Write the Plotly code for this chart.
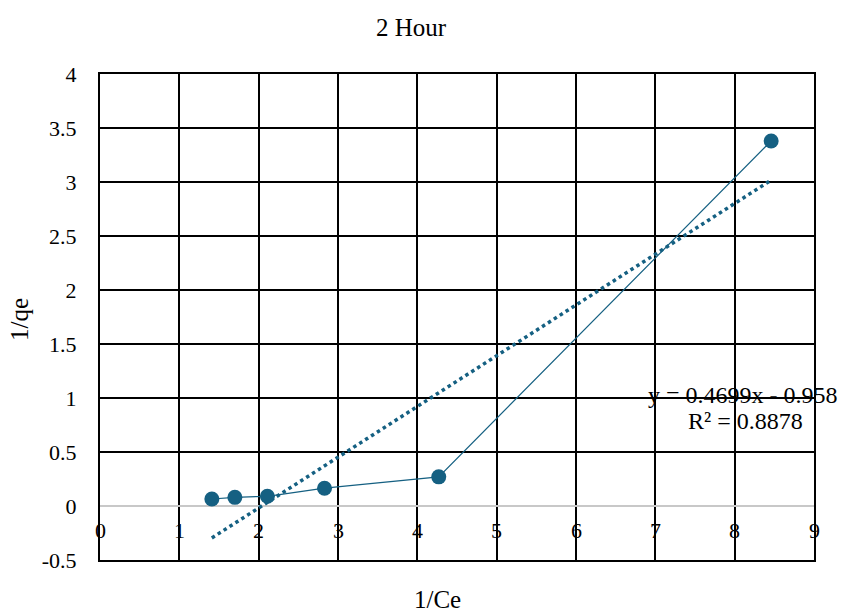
import plotly.graph_objects as go

# Data
inv_ce = [1.41, 1.70, 2.11, 2.83, 4.27, 8.46]
inv_qe = [0.065, 0.08, 0.09, 0.165, 0.27, 3.38]
slope = 0.4699
intercept = -0.958
eq_text = "y = 0.4699x - 0.958"
r2_text = "R² = 0.8878"
x_ticks = [0, 1, 2, 3, 4, 5, 6, 7, 8, 9]
y_ticks = [-0.5, 0, 0.5, 1, 1.5, 2, 2.5, 3, 3.5, 4]

color = "#156082"
font = "Liberation Serif"

x_min, x_max = min(inv_ce), max(inv_ce)
trend_x = [x_min, x_max]
trend_y = [slope * v + intercept for v in trend_x]

fig = go.Figure()
fig.add_trace(go.Scatter(
    x=trend_x, y=trend_y, mode="lines",
    line=dict(color=color, width=3.5, dash="dot"),
    showlegend=False, hoverinfo="skip"))
fig.add_trace(go.Scatter(
    x=inv_ce, y=inv_qe, mode="lines+markers",
    line=dict(color=color, width=1.2),
    marker=dict(color=color, size=15),
    showlegend=False))

annotations = []
for t in x_ticks:
    annotations.append(dict(x=t, y=0, xref="x", yref="y", text=str(t),
                            showarrow=False, yanchor="top", yshift=-10,
                            font=dict(family=font, size=22, color="#000")))
annotations.append(dict(x=1.037, y=1.03, xref="paper", yref="y", text=eq_text,
                        showarrow=False, xanchor="right", yanchor="middle",
                        font=dict(family=font, size=24, color="#000")))
annotations.append(dict(x=0.987, y=0.785, xref="paper", yref="y", text=r2_text,
                        showarrow=False, xanchor="right", yanchor="middle",
                        font=dict(family=font, size=24, color="#000")))
# axis titles
annotations.append(dict(x=-0.112, y=0.494, xref="paper", yref="paper", text="1/qe",
                        textangle=-90, showarrow=False, xanchor="center", yanchor="middle",
                        font=dict(family=font, size=25, color="#000")))
annotations.append(dict(x=0.473, y=-0.082, xref="paper", yref="paper", text="1/Ce",
                        showarrow=False, xanchor="center", yanchor="middle",
                        font=dict(family=font, size=25, color="#000")))

fig.update_layout(
    width=843, height=614,
    margin=dict(l=100, r=29, t=74, b=54),
    paper_bgcolor="white", plot_bgcolor="white",
    font=dict(family=font),
    title=dict(text="2 Hour", x=0.4875, xanchor="center", y=0.955, yanchor="middle",
               font=dict(family=font, size=25, color="#000")),
    xaxis=dict(range=[0, 9], tickvals=x_ticks, showticklabels=False, automargin=False,
               showgrid=True, gridcolor="#000", gridwidth=2,
               zeroline=False, showline=True, linecolor="#000", linewidth=2, mirror=True),
    yaxis=dict(range=[-0.5, 4], tickvals=y_ticks, ticktext=[f"{v:g}" for v in y_ticks],
               automargin=False,
               showgrid=True, gridcolor="#000", gridwidth=2,
               zeroline=True, zerolinecolor="#C8C8C8", zerolinewidth=2,
               showline=True, linecolor="#000", linewidth=2, mirror=True,
               ticks="", ticklabelstandoff=17,
               tickfont=dict(family=font, size=22, color="#000")),
    annotations=annotations,
)
fig.write_html("out.html")
